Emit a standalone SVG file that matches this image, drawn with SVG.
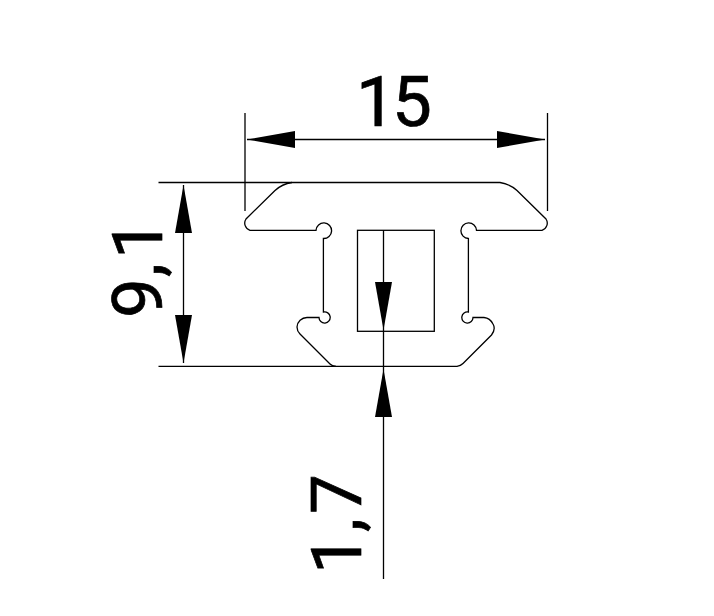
<svg xmlns="http://www.w3.org/2000/svg" width="714" height="616" viewBox="0 0 714 616">
<style>
.l{fill:none;stroke:#000;stroke-width:1.3}
.a{fill:#000;stroke:none}
.t{font-family:Roboto,"Liberation Sans",Arial,sans-serif;font-size:71px;fill:#000;stroke:#000;stroke-width:.7}
</style>
<defs>
<polygon id="arrow" class="a" points="0,0 48,-8.5 48,8.5"/>
</defs>
<rect width="714" height="616" fill="#fff"/>
<g id="profile">
<path class="l" d="M292,182.5 Q282,184 275,190.5 L246,219 A7.5,7.5 0 0 0 250,230.3 L316,230.3 A7.8,7.8 0 1 1 323.4,238.5 L323.4,312 A5.6,5.6 0 1 1 319,317.5 L307,317.5 A10,10 0 0 0 297,327 Q297,331 300,334 L330,364 Q332,366 336,366.3 L457,366.3 Q460.5,366 463,363.5 L491.5,335 Q496,329 493,324 Q490,318 484,317.5 L473,317.5 A5.6,5.6 0 1 1 468.4,312 L468.4,238.5 A7.8,7.8 0 1 1 476.5,230.3 L542,230.3 A7.5,7.5 0 0 0 546,219 L517,190.5 Q510,184 500,182.5 Z"/>
</g>
<g id="slot">
<rect class="l" x="357.5" y="230.3" width="76.8" height="101"/>
</g>
<g id="connectors">
<path class="l" d="M245,113 V211 M547.5,113 V211 M247,139.5 H545"/>
<path class="l" d="M158.500,182.500 H292 M158.500,366.300 H336"/>
<path class="l" d="M183.500,185 V363"/>
<path class="l" d="M383.500,230 V579"/>
<use href="#arrow" transform="translate(247,139.500)"/>
<use href="#arrow" transform="translate(545,139.500) rotate(180)"/>
<use href="#arrow" transform="translate(183.500,185) rotate(90)"/>
<use href="#arrow" transform="translate(183.500,363) rotate(-90)"/>
<use href="#arrow" transform="translate(383.500,330) rotate(-90)"/>
<use href="#arrow" transform="translate(383.500,369) rotate(90)"/>
</g>
<g id="labels">
<text class="t" x="356 392" y="126">15</text>
<text class="t" x="0 41 59" y="0" transform="translate(161.500,318) rotate(-90)">9,1</text>
<text class="t" x="0 42 60" y="0" transform="translate(361,574) rotate(-90)">1,7</text>
</g>
</svg>
